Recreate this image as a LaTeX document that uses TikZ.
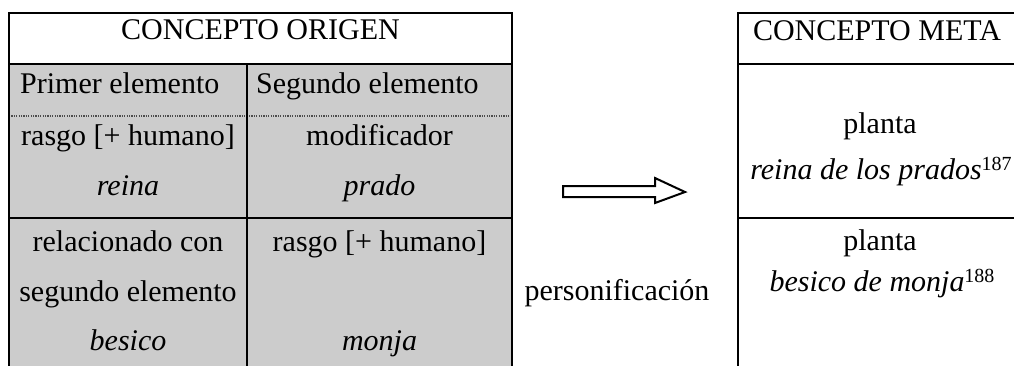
\documentclass[tikz,border=0pt]{standalone}
\usepackage{fontspec}
\setmainfont{Liberation Serif}
\definecolor{cellgray}{RGB}{204,204,204}
\newcommand{\supnum}[1]{\raisebox{9pt}{\fontsize{20}{20}\selectfont #1}}
\tikzset{
  rule/.style={line width=2.8pt, line cap=rect},
  dotrule/.style={line width=1.2pt, gray!60!black, dash pattern=on 1.2pt off 1.2pt},
  txt/.style={anchor=base, inner sep=0pt, font=\fontsize{30}{36}\selectfont},
  ltxt/.style={txt, anchor=base west},
  blockarrow/.style={line width=2pt, line join=miter, fill=white}
}
\begin{document}
\begin{tikzpicture}[x=1pt,y=-1pt]
\useasboundingbox (0,0) rectangle (1014,365);
% grey fill
\fill[cellgray] (9,64) rectangle (512,370);
% left table rules
\draw[dotrule] (9,116) -- (512,116);
\draw[rule] (9,13) -- (512,13);
\draw[rule] (9,64) -- (512,64);
\draw[rule] (9,218) -- (512,218);
\draw[rule] (9,13) -- (9,370);
\draw[rule] (512,13) -- (512,370);
\draw[rule] (247,64) -- (247,370);
% right table rules
\draw[rule] (738,13) -- (1030,13);
\draw[rule] (738,64) -- (1030,64);
\draw[rule] (738,218) -- (1030,218);
\draw[rule] (738,13) -- (738,370);
% texts left table
\node[txt] (orig) at (260.5,39) {CONCEPTO ORIGEN};
\node[ltxt] (prim) at (20,93) {Primer elemento};
\node[ltxt] (seg) at (256,93) {Segundo elemento};
\node[txt] (rasgoA) at (128,145) {rasgo [+ humano]};
\node[txt] (modif) at (379.5,145) {modificador};
\node[txt] (reina) at (128,195) {\itshape reina};
\node[txt] (prado) at (379.5,195) {\itshape prado};
\node[txt] (rel) at (128,251) {relacionado con};
\node[txt] (rasgoB) at (379.5,251) {rasgo [+ humano]};
\node[txt] (segel) at (128,301) {segundo elemento};
\node[txt] (besico) at (128,350) {\itshape besico};
\node[txt] (monja) at (379.5,350) {\itshape monja};
% middle
\node[txt] (pers) at (617,300) {personificación};
\coordinate (a1) at (563,186);
\draw[blockarrow] (a1) -- (655,186) -- (655,178) -- (685,192) -- (655,203) -- (655,197) -- (563,197) -- cycle;
% right table texts
\node[txt] (meta) at (877,40) {CONCEPTO META};
\node[txt] (plantaA) at (880,133) {planta};
\node[txt] (reinap) at (881,179) {\itshape reina de los prados\upshape\supnum{187}};
\node[txt] (plantaB) at (880,250) {planta};
\node[txt] (besicom) at (882,291) {\itshape besico de monja\upshape\supnum{188}};
\end{tikzpicture}
\end{document}
